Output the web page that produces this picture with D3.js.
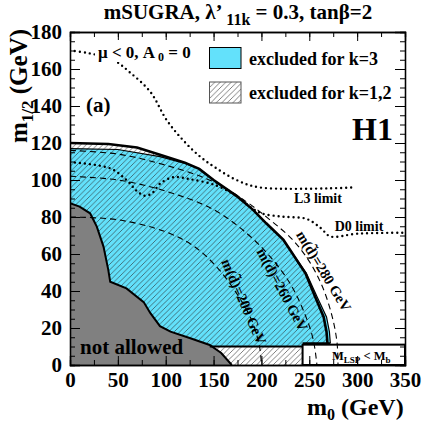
<!DOCTYPE html>
<html>
<head>
<meta charset="utf-8">
<script src="https://cdn.jsdelivr.net/npm/d3@7"></script>
<style>
  body { margin: 0; background: #fff; }
</style>
</head>
<body>
<div id="area"></div>
<script>
'use strict';

// ---- data (m0, m1/2 in GeV) ----
const xTicks = [0, 50, 100, 150, 200, 250, 300, 350];
const yTicks = [0, 20, 40, 60, 80, 100, 120, 140, 160, 180];

// "not allowed" region boundary
const notAllowed = [[0,87.4],[10,85.6],[21,82],[28,74.8],[35,64],[40,51.4],[42,45],[59,41.4],[77,34],
  [84,28],[94,21],[105,18],[125,14.6],[146,10.8],[158,6.5],[169,0]];

// excluded for k=3 (upper boundary)
const k3Top = [[0,117],[50,116.5],[94,112.6],[120,109],[135,106],[150,100],[175,91],[191,84],[205,76.6],
  [223,67.6],[230,62.2],[247,49.6],[258,37],[268,26],[271,18],[272,11.7],[243,11.7],[243,10],[146,10]];

// excluded for k=1,2 (upper boundary)
const k12Top = [[0,120],[40,119.5],[70,117.6],[94,113.6],[120,109.4],[135,106],[150,100],[175,91],[191,84],
  [205,76.6],[223,67.6],[230,62.2],[246,49.6],[256,37],[265,26],[268,18],[269,11.7],[243,11.7],[243,0],[169,0]];

// squark mass contours
const md200 = [[0,80],[50,78.5],[100,72],[130,64],[155,52],[175,38],[190,24],[198,10],[200,0]];
const md260 = [[0,102],[50,100],[100,94],[150,84],[185,71],[210,58],[230,44],[245,28],[254,14],[258,0]];
const md280 = [[0,116],[50,114],[100,108],[150,99],[185,88],[210,78],[232,68],[250,56],[264,42],[274,26],[279,12],[280,0]];

// LEP / Tevatron limits
const l3Limit = [[0,170],[20,168.5],[45,165],[63,158],[84,147.6],[101,132.4],[118,121.6],[136,112.6],
  [153,106.3],[174,100],[198,96],[298,96]];
const d0Limit = [[0,109.6],[42,106.3],[60,99.5],[70,94],[78,91.5],[86,93],[94,98],[108,101.5],[125,100.5],
  [153,97],[175,91],[188,85.6],[200,82],[222,80.2],[247,79],[262,74],[272,69.5],[300,71],[349,71.5]];

// M_LSP < M_b box
const lspBox = [243, 350, 0, 11];

const W = 431, H = 422;
const FONT = '"Liberation Serif", "Times New Roman", Times, serif';
const svg = d3.select('#area').append('svg').attr('width', W).attr('height', H);

const x = d3.scaleLinear().domain([0, 350]).range([70, 405]);
const y = d3.scaleLinear().domain([0, 180]).range([365, 32]);

const defs = svg.append('defs');
defs.append('clipPath').attr('id', 'plotclip')
  .append('rect').attr('x', 70).attr('y', 32).attr('width', 335).attr('height', 333);

const pat = defs.append('pattern').attr('id', 'hatch')
  .attr('patternUnits', 'userSpaceOnUse').attr('width', 5.5).attr('height', 5.5);
pat.append('path').attr('d', 'M0,5.5 L5.5,0 M-1,1 L1,-1 M4.5,6.5 L6.5,4.5')
  .attr('stroke', '#2a2a2a').attr('stroke-width', 0.6);

const lin = d3.line().x(d => x(d[0])).y(d => y(d[1]));
const smooth = d3.line().x(d => x(d[0])).y(d => y(d[1])).curve(d3.curveCatmullRom);

const plot = svg.append('g').attr('clip-path', 'url(#plotclip)');

// regions
const back = notAllowed.slice().reverse();
plot.append('path').attr('d', lin(k3Top.concat(back.filter(p => p[1] >= 10.8)))).attr('fill', '#63e1fb');
plot.append('path').attr('d', lin(k12Top.concat(back))).attr('fill', 'url(#hatch)');
plot.append('path').attr('d', lin(notAllowed.concat([[0,0]]))).attr('fill', '#808080');

// box
plot.append('rect')
  .attr('x', x(lspBox[0])).attr('y', y(lspBox[3]))
  .attr('width', x(lspBox[1]) - x(lspBox[0])).attr('height', y(lspBox[2]) - y(lspBox[3]))
  .attr('fill', '#fff').attr('stroke', '#000').attr('stroke-width', 2);

// dashed contours
[md200, md260, md280].forEach(c => {
  plot.append('path').attr('d', smooth(c)).attr('fill', 'none')
    .attr('stroke', '#000').attr('stroke-width', 1.1).attr('stroke-dasharray', '6,4');
});

// outlines
plot.append('path').attr('d', lin(k3Top.slice(0, 16))).attr('fill', 'none')
  .attr('stroke', '#000').attr('stroke-width', 1.2);
plot.append('path').attr('d', lin(k12Top.slice(0, 17))).attr('fill', 'none')
  .attr('stroke', '#000').attr('stroke-width', 2.6);
plot.append('path').attr('d', lin([[146,10],[243,10]])).attr('fill', 'none')
  .attr('stroke', '#000').attr('stroke-width', 2.2);
plot.append('path').attr('d', lin([[243,11.7],[272,11.7]])).attr('fill', 'none')
  .attr('stroke', '#000').attr('stroke-width', 2.2);
plot.append('path').attr('d', lin(notAllowed)).attr('fill', 'none')
  .attr('stroke', '#000').attr('stroke-width', 2);

// dotted limits
[l3Limit, d0Limit].forEach(c => {
  plot.append('path').attr('d', smooth(c)).attr('fill', 'none')
    .attr('stroke', '#000').attr('stroke-width', 2.4).attr('stroke-linecap', 'round')
    .attr('stroke-dasharray', '0,5');
});

// axes (ticks inward on all four sides)
function minor(step, max) { return d3.range(0, max + 0.001, step); }
const axB = d3.axisBottom(x).tickValues(minor(25, 350)).tickSize(-5).tickFormat('');
const axT = d3.axisTop(x).tickValues(minor(25, 350)).tickSize(-5).tickFormat('');
const axBM = d3.axisBottom(x).tickValues(xTicks).tickSize(-9).tickPadding(7).tickFormat(d3.format('d'));
const axTM = d3.axisTop(x).tickValues(xTicks).tickSize(-9).tickFormat('');
const axL = d3.axisLeft(y).tickValues(minor(5, 180)).tickSize(-5).tickFormat('');
const axR = d3.axisRight(y).tickValues(minor(5, 180)).tickSize(-5).tickFormat('');
const axLM = d3.axisLeft(y).tickValues(yTicks).tickSize(-10).tickPadding(8).tickFormat(d3.format('d'));
const axRM = d3.axisRight(y).tickValues(yTicks).tickSize(-10).tickFormat('');

function put(ax, tx, ty) {
  const g = svg.append('g').attr('transform', `translate(${tx},${ty})`).call(ax);
  g.attr('font-family', null).attr('font-size', null);
  g.select('.domain').attr('stroke', '#000').attr('stroke-width', 1.3);
  g.selectAll('line').attr('stroke', '#000').attr('stroke-width', 1);
  g.selectAll('text').attr('font-size', 21).attr('fill', '#000');
  return g;
}
put(axB, 0, 365); put(axT, 0, 32); put(axL, 70, 0); put(axR, 405, 0);
put(axBM, 0, 365); put(axTM, 0, 32); put(axLM, 70, 0); put(axRM, 405, 0);

// title
const title = svg.append('text').attr('x', 238).attr('y', 19).attr('text-anchor', 'middle').attr('font-size', 21);
title.append('tspan').text('mSUGRA, \u03bb\u2019 ');
title.append('tspan').attr('font-size', 16).attr('dy', 6).text('11k');
title.append('tspan').attr('dy', -6).text(' = 0.3, tan\u03b2=2');

// axis titles
const yl = svg.append('text').attr('transform', 'translate(27,86) rotate(-90)')
  .attr('text-anchor', 'middle').attr('font-size', 25);
yl.append('tspan').text('m');
yl.append('tspan').attr('font-size', 17).attr('dy', 6).text('1/2');
yl.append('tspan').attr('dy', -6).text(' (GeV)');

const xl = svg.append('text').attr('x', 307).attr('y', 415).attr('font-size', 24);
xl.append('tspan').text('m');
xl.append('tspan').attr('font-size', 16).attr('dy', 5).text('0');
xl.append('tspan').attr('dy', -5).text(' (GeV)');

// legend
svg.append('rect').attr('x', 95).attr('y', 40).attr('width', 102).attr('height', 22).attr('fill', '#fff');
const mu = svg.append('text').attr('x', 98).attr('y', 58).attr('font-size', 17);
mu.append('tspan').text('\u03bc < 0, A');
mu.append('tspan').attr('font-size', 12).attr('dy', 3).text(' 0');
mu.append('tspan').attr('dy', -3).text(' = 0');

svg.append('rect').attr('x', 209.5).attr('y', 47.5).attr('width', 31.5).attr('height', 21)
  .attr('fill', '#63e1fb').attr('stroke', '#000').attr('stroke-width', 1);
svg.append('rect').attr('x', 209.5).attr('y', 82).attr('width', 31.5).attr('height', 21)
  .attr('fill', 'url(#hatch)').attr('stroke', '#555').attr('stroke-width', 1);
svg.append('text').attr('x', 249).attr('y', 65).attr('font-size', 18).text('excluded for k=3');
svg.append('text').attr('x', 249).attr('y', 98.5).attr('font-size', 18).text('excluded for k=1,2');

svg.append('text').attr('x', 352).attr('y', 140).attr('font-size', 32).text('H1');
svg.append('text').attr('x', 86).attr('y', 112).attr('font-size', 21).text('(a)');
svg.append('text').attr('x', 80).attr('y', 354).attr('font-size', 21).text('not allowed');

svg.append('text').attr('x', 318).attr('y', 203).attr('text-anchor', 'middle').attr('font-size', 14).text('L3 limit');
svg.append('text').attr('x', 359).attr('y', 231).attr('text-anchor', 'middle').attr('font-size', 14).text('D0 limit');

const lsp = svg.append('text').attr('x', 332).attr('y', 360).attr('font-size', 12.5);
lsp.append('tspan').text('M');
lsp.append('tspan').attr('font-size', 9).attr('dy', 3).text('LSP');
lsp.append('tspan').attr('dy', -3).text(' < M');
lsp.append('tspan').attr('font-size', 9).attr('dy', 3).text('b');

// contour labels
[['m(d\u0303)=200 GeV', 243, 302, 66.5], ['m(d\u0303)=260 GeV', 281.5, 290, 61.7],
 ['m(d\u0303)=280 GeV', 323, 271.5, 58.8]].forEach(l => {
  svg.append('text').attr('transform', `translate(${l[1]},${l[2]}) rotate(${l[3]})`)
    .attr('text-anchor', 'middle').attr('dy', 4).attr('font-size', 14.5).text(l[0]);
});

svg.selectAll('text').style('font-family', FONT).style('font-weight', 'bold').style('fill', '#000');
</script>
</body>
</html>
